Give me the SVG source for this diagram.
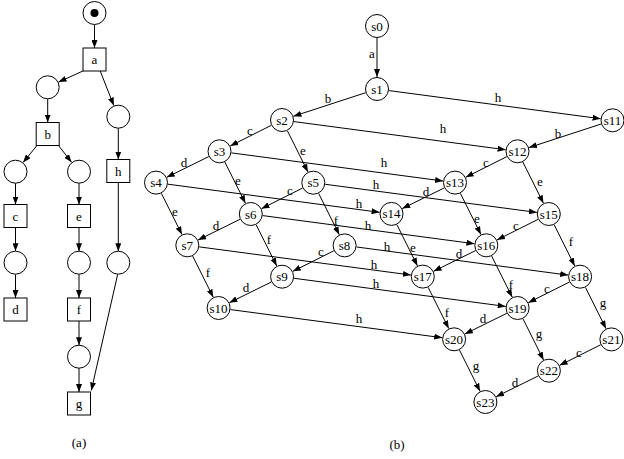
<svg xmlns="http://www.w3.org/2000/svg" width="624" height="459" viewBox="0 0 624 459">
<defs>
<marker id="arr" markerUnits="userSpaceOnUse" markerWidth="8" markerHeight="6" refX="8" refY="3" orient="auto">
<path d="M0,0 L8,3 L0,6 z" fill="#000"/>
</marker>
<style>
.n circle, .n rect { fill:#fff; stroke:#000; stroke-width:1; }
text { font-family:'Liberation Serif', serif; font-size:13px; fill:#000; text-anchor:middle; dominant-baseline:central; }
#edges line { stroke:#000; stroke-width:1; fill:none; marker-end:url(#arr); }
</style>
</defs>
<rect width="624" height="459" fill="#fff"/>

<g id="edges">
<!-- (a) Petri net connectors -->
<line x1="94.5" y1="24.5" x2="94.5" y2="48"/>
<line x1="84" y1="70.5" x2="58.5" y2="82.1"/>
<line x1="100" y1="70.5" x2="113.8" y2="105.5"/>
<line x1="47.7" y1="99" x2="47.7" y2="122.5"/>
<line x1="37" y1="145.5" x2="23.1" y2="162.4"/>
<line x1="58.5" y1="145.5" x2="71.6" y2="162.3"/>
<line x1="118.3" y1="128.2" x2="118.3" y2="159.5"/>
<line x1="15.5" y1="183.2" x2="15.5" y2="204.5"/>
<line x1="79" y1="183.2" x2="79" y2="204.5"/>
<line x1="15.5" y1="227.5" x2="15.5" y2="251.2"/>
<line x1="79" y1="227.5" x2="79" y2="251.2"/>
<line x1="118.3" y1="182.5" x2="118.3" y2="251.2"/>
<line x1="15.5" y1="274.2" x2="15.5" y2="298"/>
<line x1="79" y1="274.2" x2="79" y2="298"/>
<line x1="79" y1="321" x2="79" y2="345.2"/>
<line x1="79" y1="368.2" x2="79" y2="392"/>
<line x1="117.7" y1="274.2" x2="91.3" y2="390.5"/>

<!-- (b) state graph connectors -->
<line x1="377" y1="38" x2="377" y2="77"/>
<line x1="365.59" y1="92.72" x2="293.41" y2="116.28"/>
<line x1="388.9" y1="90.58" x2="600.6" y2="118.72"/>
<line x1="271.27" y1="125.37" x2="230.23" y2="145.93"/>
<line x1="287.36" y1="130.74" x2="307.94" y2="171.96"/>
<line x1="293.9" y1="121.58" x2="505.6" y2="149.72"/>
<line x1="601.09" y1="124.02" x2="528.91" y2="147.58"/>
<line x1="208.74" y1="156.61" x2="166.76" y2="177.29"/>
<line x1="224.86" y1="162.04" x2="245.44" y2="203.26"/>
<line x1="231.4" y1="152.88" x2="443.1" y2="181.02"/>
<line x1="506.77" y1="156.67" x2="465.73" y2="177.23"/>
<line x1="522.86" y1="162.04" x2="543.44" y2="203.26"/>
<line x1="161.36" y1="193.34" x2="181.94" y2="234.56"/>
<line x1="167.9" y1="184.18" x2="379.6" y2="212.32"/>
<line x1="302.57" y1="188.07" x2="261.53" y2="208.63"/>
<line x1="318.66" y1="193.44" x2="339.24" y2="234.66"/>
<line x1="325.2" y1="184.28" x2="536.9" y2="212.42"/>
<line x1="444.24" y1="187.91" x2="402.26" y2="208.59"/>
<line x1="460.36" y1="193.34" x2="480.94" y2="234.56"/>
<line x1="538.07" y1="219.37" x2="497.03" y2="239.93"/>
<line x1="554.16" y1="224.74" x2="574.74" y2="265.96"/>
<line x1="240.04" y1="219.31" x2="198.06" y2="239.99"/>
<line x1="256.16" y1="224.74" x2="276.74" y2="265.96"/>
<line x1="262.7" y1="215.58" x2="474.4" y2="243.72"/>
<line x1="396.86" y1="224.64" x2="417.44" y2="265.86"/>
<line x1="475.54" y1="250.61" x2="433.56" y2="271.29"/>
<line x1="491.66" y1="256.04" x2="512.24" y2="297.26"/>
<line x1="192.66" y1="256.04" x2="213.24" y2="297.26"/>
<line x1="199.2" y1="246.88" x2="410.9" y2="275.02"/>
<line x1="333.87" y1="250.77" x2="292.83" y2="271.33"/>
<line x1="356.5" y1="246.98" x2="568.2" y2="275.12"/>
<line x1="569.37" y1="282.07" x2="528.33" y2="302.63"/>
<line x1="585.46" y1="287.44" x2="606.04" y2="328.66"/>
<line x1="271.34" y1="282.01" x2="229.36" y2="302.69"/>
<line x1="294" y1="278.28" x2="505.7" y2="306.42"/>
<line x1="428.16" y1="287.34" x2="448.74" y2="328.56"/>
<line x1="506.84" y1="313.31" x2="464.86" y2="333.99"/>
<line x1="522.96" y1="318.74" x2="543.54" y2="359.96"/>
<line x1="230.5" y1="309.58" x2="442.2" y2="337.72"/>
<line x1="600.67" y1="344.77" x2="559.63" y2="365.33"/>
<line x1="459.46" y1="350.04" x2="480.04" y2="391.26"/>
<line x1="538.14" y1="376.01" x2="496.16" y2="396.69"/>
</g>

<g id="edge-labels">
<text x="372" y="53">a</text>
<text x="328" y="98">b</text>
<text x="498" y="97">h</text>
<text x="250" y="130">c</text>
<text x="303" y="150">e</text>
<text x="443" y="128">h</text>
<text x="558" y="133">b</text>
<text x="184" y="162">d</text>
<text x="238" y="180">e</text>
<text x="384" y="162">h</text>
<text x="486" y="162">c</text>
<text x="540" y="181">e</text>
<text x="175" y="211">e</text>
<text x="359" y="203">h</text>
<text x="290" y="190">c</text>
<text x="336" y="220">f</text>
<text x="376" y="184">h</text>
<text x="426" y="191">d</text>
<text x="477" y="218">e</text>
<text x="516" y="225">c</text>
<text x="571" y="241">f</text>
<text x="216" y="225">d</text>
<text x="269" y="239">f</text>
<text x="368" y="225">h</text>
<text x="413" y="247">e</text>
<text x="459" y="253">d</text>
<text x="511" y="284">f</text>
<text x="208" y="272">f</text>
<text x="374" y="264">h</text>
<text x="321" y="251">c</text>
<text x="387" y="246">h</text>
<text x="547" y="288">c</text>
<text x="603" y="302">g</text>
<text x="246" y="287">d</text>
<text x="376" y="283">h</text>
<text x="447" y="312">f</text>
<text x="483" y="318">d</text>
<text x="539" y="333">g</text>
<text x="359" y="318">h</text>
<text x="579" y="352">c</text>
<text x="476" y="365">g</text>
<text x="515" y="382">d</text>
</g>

<g id="p0" class="n"><circle cx="94.5" cy="13" r="11.5"/><circle cx="94.5" cy="13" r="4" style="fill:#000;stroke:none"/></g>
<g id="t_a" class="n"><rect x="83" y="48" width="23" height="23"/><text x="94.5" y="59.5">a</text></g>
<g id="p1" class="n"><circle cx="47.7" cy="87.3" r="11.5"/></g>
<g id="p2" class="n"><circle cx="118.3" cy="116.7" r="11.5"/></g>
<g id="t_b" class="n"><rect x="36.2" y="122.5" width="23" height="23"/><text x="47.7" y="134">b</text></g>
<g id="t_h" class="n"><rect x="106.8" y="159.5" width="23" height="23"/><text x="118.3" y="171">h</text></g>
<g id="p3" class="n"><circle cx="15.5" cy="171.7" r="11.5"/></g>
<g id="p4" class="n"><circle cx="79" cy="171.7" r="11.5"/></g>
<g id="t_c" class="n"><rect x="4" y="204.5" width="23" height="23"/><text x="15.5" y="216">c</text></g>
<g id="t_e" class="n"><rect x="67.5" y="204.5" width="23" height="23"/><text x="79" y="216">e</text></g>
<g id="p5" class="n"><circle cx="15.5" cy="262.7" r="11.5"/></g>
<g id="p6" class="n"><circle cx="79" cy="262.7" r="11.5"/></g>
<g id="p7" class="n"><circle cx="118.3" cy="262.7" r="11.5"/></g>
<g id="t_d" class="n"><rect x="4" y="298" width="23" height="23"/><text x="15.5" y="309.5">d</text></g>
<g id="t_f" class="n"><rect x="67.5" y="298" width="23" height="23"/><text x="79" y="309.5">f</text></g>
<g id="p8" class="n"><circle cx="79" cy="356.7" r="11.5"/></g>
<g id="t_g" class="n"><rect x="67.5" y="392" width="23" height="23"/><text x="79" y="403.5">g</text></g>

<g id="s0" class="n"><circle cx="377" cy="26" r="11.5"/><text x="377" y="26">s0</text></g>
<g id="s1" class="n"><circle cx="377" cy="89" r="11.5"/><text x="377" y="89">s1</text></g>
<g id="s2" class="n"><circle cx="282" cy="120" r="11.5"/><text x="282" y="120">s2</text></g>
<g id="s3" class="n"><circle cx="219.5" cy="151.3" r="11.5"/><text x="219.5" y="151.3">s3</text></g>
<g id="s4" class="n"><circle cx="156" cy="182.6" r="11.5"/><text x="156" y="182.6">s4</text></g>
<g id="s5" class="n"><circle cx="313.3" cy="182.7" r="11.5"/><text x="313.3" y="182.7">s5</text></g>
<g id="s6" class="n"><circle cx="250.8" cy="214" r="11.5"/><text x="250.8" y="214">s6</text></g>
<g id="s7" class="n"><circle cx="187.3" cy="245.3" r="11.5"/><text x="187.3" y="245.3">s7</text></g>
<g id="s8" class="n"><circle cx="344.6" cy="245.4" r="11.5"/><text x="344.6" y="245.4">s8</text></g>
<g id="s9" class="n"><circle cx="282.1" cy="276.7" r="11.5"/><text x="282.1" y="276.7">s9</text></g>
<g id="s10" class="n"><circle cx="218.6" cy="308" r="11.5"/><text x="218.6" y="308">s10</text></g>
<g id="s11" class="n"><circle cx="612.5" cy="120.3" r="11.5"/><text x="612.5" y="120.3">s11</text></g>
<g id="s12" class="n"><circle cx="517.5" cy="151.3" r="11.5"/><text x="517.5" y="151.3">s12</text></g>
<g id="s13" class="n"><circle cx="455" cy="182.6" r="11.5"/><text x="455" y="182.6">s13</text></g>
<g id="s14" class="n"><circle cx="391.5" cy="213.9" r="11.5"/><text x="391.5" y="213.9">s14</text></g>
<g id="s15" class="n"><circle cx="548.8" cy="214" r="11.5"/><text x="548.8" y="214">s15</text></g>
<g id="s16" class="n"><circle cx="486.3" cy="245.3" r="11.5"/><text x="486.3" y="245.3">s16</text></g>
<g id="s17" class="n"><circle cx="422.8" cy="276.6" r="11.5"/><text x="422.8" y="276.6">s17</text></g>
<g id="s18" class="n"><circle cx="580.1" cy="276.7" r="11.5"/><text x="580.1" y="276.7">s18</text></g>
<g id="s19" class="n"><circle cx="517.6" cy="308" r="11.5"/><text x="517.6" y="308">s19</text></g>
<g id="s20" class="n"><circle cx="454.1" cy="339.3" r="11.5"/><text x="454.1" y="339.3">s20</text></g>
<g id="s21" class="n"><circle cx="611.4" cy="339.4" r="11.5"/><text x="611.4" y="339.4">s21</text></g>
<g id="s22" class="n"><circle cx="548.9" cy="370.7" r="11.5"/><text x="548.9" y="370.7">s22</text></g>
<g id="s23" class="n"><circle cx="485.4" cy="402" r="11.5"/><text x="485.4" y="402">s23</text></g>

<text x="79" y="442">(a)</text>
<text x="397" y="444">(b)</text>
</svg>
